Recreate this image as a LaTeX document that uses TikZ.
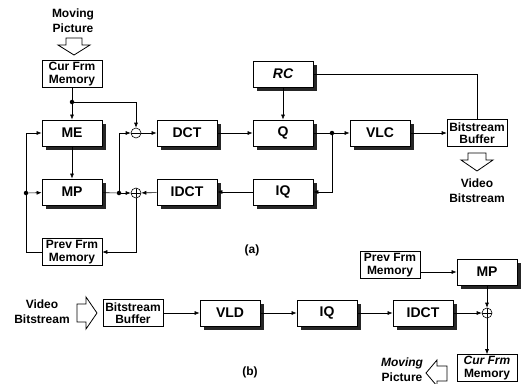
\documentclass[tikz,border=0pt]{standalone}
\usepackage{fontspec}
\setmainfont{Liberation Sans}
\usetikzlibrary{arrows.meta}
\tikzset{
  blk/.style = {draw, line width = 0.8pt, fill = white, minimum width = 60pt, minimum height = 26pt,
    font = \fontsize{14}{16}\selectfont\bfseries},
  mem/.style = {draw, line width = 0.6pt, fill = white, minimum width = 60pt, minimum height = 27pt,
    inner sep = 1pt, align = center, font = \fontsize{12}{12.5}\selectfont\bfseries},
  lbl/.style = {align = center, font = \fontsize{12}{15}\selectfont\bfseries},
  dotc/.style = {circle, fill, minimum size = 4.5pt, inner sep = 0pt},
  sumplus/.style = {circle, draw, line width = 0.6pt, minimum size = 10pt, inner sep = 0pt,
    path picture = {\draw (path picture bounding box.north) -- (path picture bounding box.south)
      (path picture bounding box.west) -- (path picture bounding box.east);}},
  summinus/.style = {circle, draw, line width = 0.6pt, minimum size = 10pt, inner sep = 0pt,
    path picture = {\draw (path picture bounding box.west) -- (path picture bounding box.east);}},
  arr/.style = {-{Latex[length = 5pt, width = 4pt]}, line width = 0.6pt},
  ln/.style = {line width = 0.6pt},
  hollow/.style = {draw, line width = 0.8pt, fill = white},
  shd/.style = {fill = black!85}
}
\newcommand{\blkat}[4]{%
  \fill[shd] (#1-26.5,#2-9.5) rectangle (#1+33.5,#2+16.5);
  \node[blk] at (#1,#2) (#3) {#4};}
\begin{document}
\begin{tikzpicture}[x = 1pt, y = -1pt]
\useasboundingbox (0,0) rectangle (521,383);
\node[lbl] at (73,21) (mvA) {Moving\\Picture};
\path[hollow] (66,38) -- (82,38) -- (82,45) -- (90,45) -- (74,55) -- (58,45) -- (66,45) -- cycle;
\node[mem] at (72,74) (curA) {Cur Frm\\Memory};
\blkat{72}{133}{me}{ME}
\blkat{72}{192}{mp}{MP}
\node[mem] at (72,252) (prevA) {Prev Frm\\Memory};
\node[summinus] at (136,133) (minus) {};
\node[sumplus] at (136,193) (plus) {};
\blkat{187}{133}{dct}{DCT}
\blkat{187}{192}{idct}{IDCT}
\blkat{283}{74}{rc}{\itshape RC}
\blkat{283}{133}{q}{Q}
\blkat{283}{192}{iq}{IQ}
\blkat{380}{133}{vlc}{VLC}
\node[mem] at (477,133) (bufA) {Bitstream\\Buffer};
\path[hollow] (468,153) -- (486,153) -- (486,160) -- (493,160) -- (477,171) -- (461,160) -- (468,160) -- cycle;
\node[lbl] at (477,191) (vbA) {Video\\Bitstream};
\node[dotc] at (72,102) (dtop) {};
\node[dotc] at (119,193) (dmp) {};
\node[dotc] at (26,193) (dleft) {};
\node[dotc] at (332,133) (dq) {};
\draw[ln] (curA) -- (dtop);
\draw[arr] (dtop) -- (me);
\draw[arr] (dtop) -| (minus);
\draw[arr] (minus) -- (dct);
\draw[arr] (dct) -- (q);
\draw[arr] (rc) -- (q);
\draw[ln] (q) -- (dq);
\draw[arr] (dq) -- (vlc);
\draw[arr] (vlc) -- (bufA);
\draw[ln] (rc.east) -| (bufA.north);
\draw[arr] (dq) |- (iq);
\draw[arr] (iq) -- (idct);
\draw[arr] (idct) -- (plus);
\draw[ln] (mp) -- (dmp);
\draw[arr] (dmp) -- (plus);
\draw[arr] (dmp) |- (minus);
\draw[arr] (me) -- (mp);
\draw[arr] (plus) |- (prevA);
\draw[ln] (prevA) -| (dleft);
\draw[arr] (dleft) |- (me);
\draw[arr] (dleft) -- (mp);
\node[font = \fontsize{12}{14}\selectfont\bfseries] at (252,250) (capA) {(a)};
\node[lbl] at (42,312) (vbB) {Video\\Bitstream};
\path[hollow] (77,304) -- (86,304) -- (86,297) -- (97,313) -- (86,329) -- (86,322) -- (77,322) -- cycle;
\node[mem] at (133,313) (bufB) {Bitstream\\Buffer};
\blkat{230}{313}{vld}{VLD}
\blkat{327}{313}{iqB}{IQ}
\blkat{423}{313}{idctB}{IDCT}
\node[sumplus] at (487,313) (plusB) {};
\node[mem] at (390,265) (prevB) {Prev Frm\\Memory};
\blkat{487}{272}{mpB}{MP}
\node[mem] at (487,368) (curB) {\itshape Cur Frm\\Memory};
\path[hollow] (447,366) -- (437,366) -- (437,360) -- (426,373) -- (437,386) -- (437,381) -- (447,381) -- cycle;
\node[lbl] at (402,370) (mvB) {\itshape Moving\\Picture};
\draw[arr] (bufB) -- (vld);
\draw[arr] (vld) -- (iqB);
\draw[arr] (iqB) -- (idctB);
\draw[arr] (idctB) -- (plusB);
\draw[arr] (prevB.east |- mpB.west) -- (mpB.west);
\draw[arr] (mpB) -- (plusB);
\draw[arr] (plusB) -- (curB);
\node[font = \fontsize{12}{14}\selectfont\bfseries] at (250,372) (capB) {(b)};
\end{tikzpicture}
\end{document}
